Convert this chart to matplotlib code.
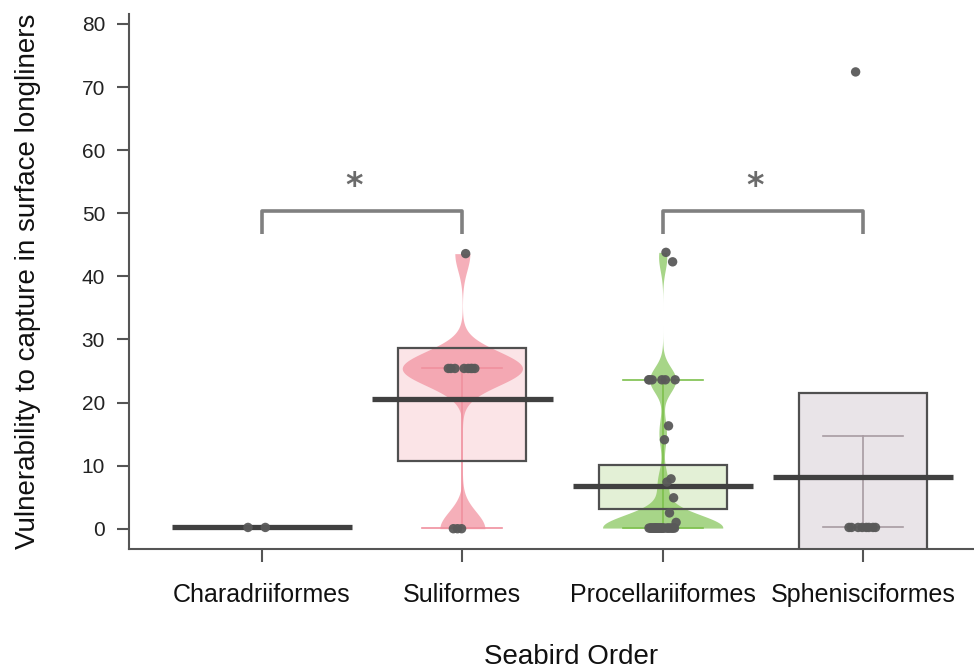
import numpy as np
import matplotlib.pyplot as plt

plt.rcParams['font.family'] = ['Liberation Sans', 'DejaVu Sans']

# ---- data ----
categories = ['Charadriiformes', 'Suliformes', 'Procellariiformes', 'Sphenisciformes']

chara_vals = [0.2, 0.2]
suli_vals = [25.4, 43.6, 25.4, 25.4, 0.0, 25.4, 25.4, 0.0, 25.4, 25.4, 0.0, 25.4]
proc_vals = [23.6, 43.8, 0.1, 42.3, 23.6, 0.1, 16.3, 0.1, 23.6, 14.1, 0.1, 7.9,
             0.1, 23.6, 7.4, 0.1, 4.9, 0.1, 23.6, 2.5, 0.1, 1.0, 23.6, 0.1,
             0.1, 0.1, 0.1, 0.1, 0.1, 0.1, 0.1, 0.1, 0.1, 0.1, 0.1, 0.1,
             0.1, 0.1, 0.1, 0.1, 0.1]
sphen_vals = [0.2, 0.2, 72.4, 0.2, 0.2, 0.2, 0.2, 0.2, 0.2]
group_vals = [chara_vals, suli_vals, proc_vals, sphen_vals]

means = [0.3, 20.55, 6.8, 8.25]
band_lo = [0.3, 10.7, 3.2, -6.0]
band_hi = [0.3, 28.6, 10.1, 21.5]
whisk_lo = [None, 0.1, 0.1, 0.2]
whisk_hi = [None, 25.4, 23.5, 14.7]

brackets = [(1, 2), (3, 4)]
bracket_top = 50.3
bracket_leg = 46.7
star_y = 54.3

# ---- styling ----
band_fill = [None, '#FBE4E7', '#E3F0D6', '#E9E4E8']
bean_col = [None, '#F2919F', '#86C55A', None]
bean_bw = [None, 2.7, 2.0, None]
whisk_col = [None, '#F0909E', '#7DC04D', '#A89BA2']
axis_col = '#555555'

fig = plt.figure(figsize=(9.74, 6.72), dpi=100)
ax = fig.add_axes([129 / 974, 1 - 548.7 / 672, (974 - 129) / 974, (548.7 - 14) / 672])
ax.set_xlim(0.336, 4.554)
ax.set_ylim(-3.17, 81.58)

for i, vals in enumerate(group_vals):
    x = i + 1
    vals = np.array(vals)

    # inference band
    if band_fill[i] is not None:
        ax.bar(x, band_hi[i] - band_lo[i], bottom=band_lo[i], width=0.64,
               color=band_fill[i], edgecolor='none', zorder=1)

    # bean (density)
    if bean_col[i] is not None:
        grid = np.linspace(vals.min(), vals.max(), 400)
        dens = np.exp(-0.5 * ((grid[:, None] - vals[None, :]) / bean_bw[i]) ** 2).sum(axis=1)
        dens = dens / dens.max() * 0.3
        ax.fill_betweenx(grid, x - dens, x + dens, color=bean_col[i], alpha=0.72,
                         linewidth=0, zorder=2)

    # thin range lines
    if whisk_lo[i] is not None:
        for yv in (whisk_lo[i], whisk_hi[i]):
            ax.plot([x - 0.2, x + 0.2], [yv, yv], color=whisk_col[i], lw=1.2, zorder=3)
        ax.plot([x, x], [whisk_lo[i], whisk_hi[i]], color=whisk_col[i], lw=1.2, zorder=3)

    # band outline
    if band_fill[i] is not None:
        ax.bar(x, band_hi[i] - band_lo[i], bottom=band_lo[i], width=0.64,
               color='none', edgecolor='#505050', linewidth=1.6, zorder=4)

    # mean line
    ax.plot([x - 0.45, x + 0.45], [means[i], means[i]], color='#404040',
            lw=3.8, solid_capstyle='butt', zorder=5)

    # points with a fixed jitter
    jit = ((np.arange(len(vals)) * 0.618034) % 1 - 0.5) * 0.14
    ax.scatter(x + jit, vals, s=46, color='#595959', alpha=0.95,
               edgecolors='none', zorder=6)

# significance brackets
for a, b in brackets:
    ax.plot([a, a, b, b], [bracket_leg, bracket_top, bracket_top, bracket_leg],
            color='#808080', lw=2.6, solid_joinstyle='round', solid_capstyle='butt',
            zorder=3)
    ax.text((a + b) / 2 - 0.04, star_y, '*', ha='center', va='center',
            fontsize=24, fontweight='bold', color='#6b6b6b', family='DejaVu Sans')

ax.spines['top'].set_visible(False)
ax.spines['right'].set_visible(False)
for s in ('left', 'bottom'):
    ax.spines[s].set_color(axis_col)
    ax.spines[s].set_linewidth(1.5)

ax.set_yticks(np.arange(0, 81, 10))
ax.set_xticks([1, 2, 3, 4])
ax.set_xticklabels(categories)
ax.tick_params(axis='y', length=8.6, width=1.5, color=axis_col, pad=8.6,
               labelsize=15, labelcolor='#222222')
ax.tick_params(axis='x', length=9.4, width=1.5, color=axis_col, pad=15,
               labelsize=18, labelcolor='#111111')

fig.text(28 / 974, 1 - 281 / 672, 'Vulnerability to capture in surface longliners',
         rotation=90, ha='center', va='center', fontsize=20, color='#111111')
fig.text(571 / 974, 1 - 657 / 672, 'Seabird Order', ha='center', va='center',
         fontsize=20, color='#111111')

fig.savefig('out.png', dpi=100)
